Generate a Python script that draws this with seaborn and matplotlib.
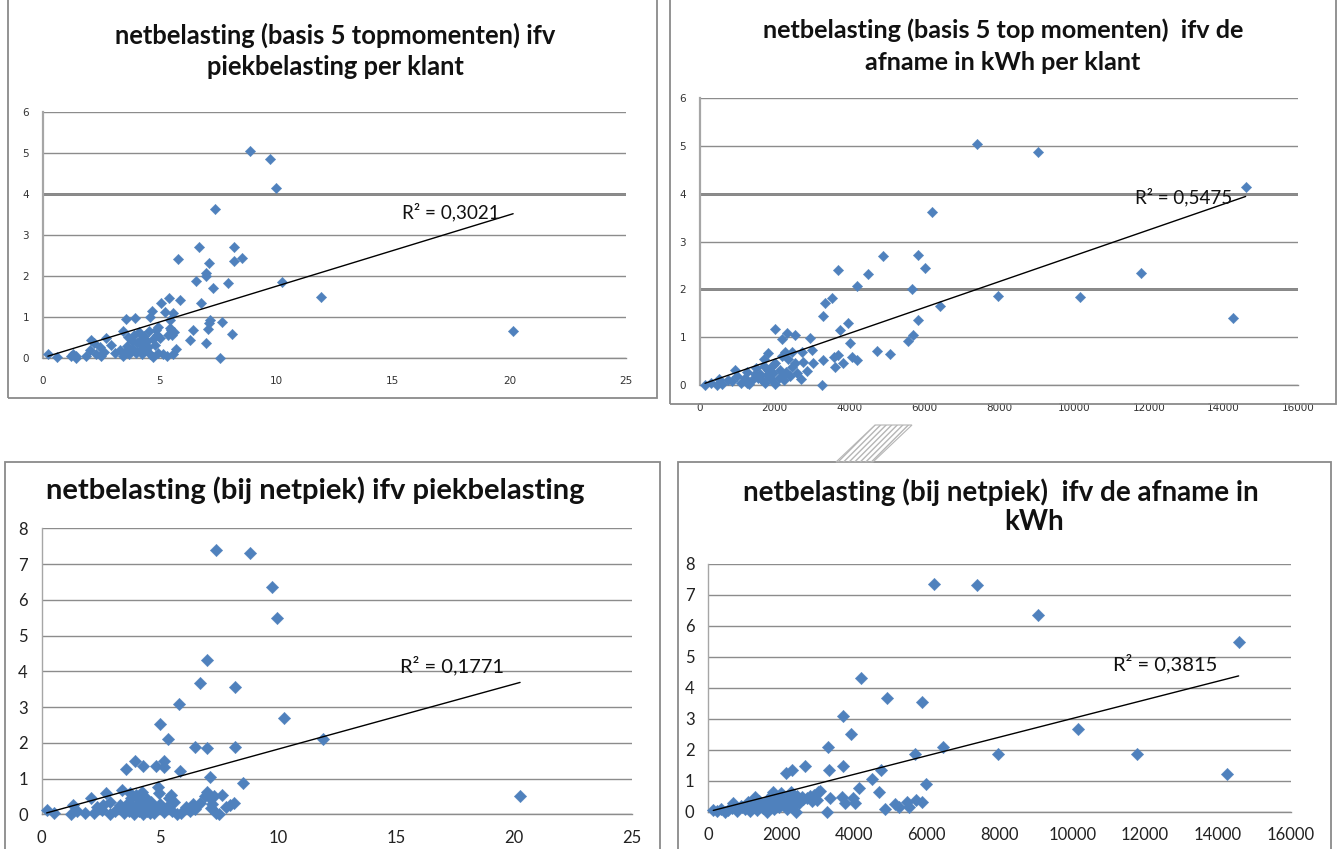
import matplotlib
matplotlib.use("Agg")
import matplotlib.pyplot as plt
from matplotlib.patches import Rectangle, Polygon
import seaborn as sns
import numpy as np

# ---------------- data ----------------
# top-left: netbelasting (basis 5 topmomenten) vs piekbelasting per klant (kW)
piek_tl = [8.86, 9.74, 9.97, 7.39, 6.71, 8.19, 8.53, 8.19, 5.81, 7.10,
           7.00, 7.00, 6.54, 7.29, 7.94, 10.26, 11.93, 20.16, 6.76, 5.86,
           5.39, 5.07, 4.67, 4.57, 5.24, 5.57, 5.43, 3.57, 3.96, 3.43,
           7.14, 7.10, 7.67, 7.07, 6.43, 8.10, 6.31, 7.00, 7.57, 5.71,
           4.71, 5.14, 5.57, 0.21, 0.61, 1.19, 1.40, 1.83, 1.40, 2.07,
           2.71, 2.43, 2.29, 4.86, 5.03, 5.50, 5.53,
           3.30, 3.50, 3.60, 3.70, 3.80, 3.85, 3.90, 4.00, 4.05, 4.10,
           4.15, 4.20, 4.25, 4.30, 4.35, 4.40, 4.45, 4.50, 4.55, 4.60,
           3.45, 3.65, 4.70, 4.80, 4.90, 4.95, 5.30, 5.35, 5.45, 2.60,
           2.90, 3.10, 2.00, 2.20, 1.30, 2.50, 4.95, 5.60]
net5_tl = [5.04, 4.85, 4.13, 3.63, 2.71, 2.71, 2.43, 2.35, 2.40, 2.32,
           2.06, 1.99, 1.87, 1.70, 1.81, 1.84, 1.49, 0.65, 1.34, 1.41,
           1.45, 1.33, 1.14, 1.00, 1.12, 1.10, 0.92, 0.95, 0.96, 0.65,
           0.92, 0.84, 0.86, 0.70, 0.67, 0.57, 0.43, 0.35, 0.00, 0.21,
           0.02, 0.08, 0.08, 0.10, 0.02, 0.05, 0.05, 0.05, 0.00, 0.43,
           0.49, 0.27, 0.10, 0.67, 0.47, 0.67, 0.55,
           0.20, 0.15, 0.28, 0.10, 0.40, 0.22, 0.55, 0.12, 0.35, 0.62,
           0.20, 0.45, 0.08, 0.30, 0.52, 0.18, 0.40, 0.25, 0.65, 0.10,
           0.05, 0.50, 0.45, 0.30, 0.55, 0.12, 0.05, 0.55, 0.72, 0.15,
           0.32, 0.12, 0.18, 0.35, 0.08, 0.05, 0.76, 0.63]

# top-right: netbelasting (basis 5 top momenten) vs afname in kWh per klant
afname_tr = [7400, 9047, 14592, 6212, 5838, 6016, 4885, 4502, 4207, 5660,
             7980, 6417, 11793, 10161, 14261, 3699, 3521, 3342, 3298, 3949,
             3744, 4011, 4056, 4190, 3833, 3610, 3699, 3592, 3298, 3254,
             4742, 5080, 5553, 5686, 5838, 2006, 2184, 2318, 2540, 1827,
             2273, 2452, 2719, 2941, 2986, 3030, 2763, 2540,
             134, 446, 757, 936, 1203, 1471, 1827, 1960, 1649, 2005, 2228,
             300, 500, 600, 850, 1000, 1100, 1250, 1300, 1400, 1500,
             1550, 1600, 1700, 1750, 1800, 1850, 1900, 1950, 2000, 2100,
             2150, 2250, 2300, 2400, 2450, 2600, 2700, 2850, 2200, 2350,
             1700, 1250]
net5_tr = [5.04, 4.88, 4.14, 3.63, 2.72, 2.44, 2.70, 2.32, 2.07, 2.00,
           1.86, 1.65, 2.35, 1.85, 1.41, 2.41, 1.82, 1.71, 1.45, 1.30,
           1.15, 0.87, 0.59, 0.52, 0.45, 0.38, 0.63, 0.58, 0.52, 0.00,
           0.72, 0.65, 0.93, 1.05, 1.36, 1.17, 0.96, 1.08, 1.05, 0.68,
           0.70, 0.70, 0.70, 0.98, 0.73, 0.45, 0.49, 0.45,
           0.00, 0.00, 0.10, 0.31, 0.14, 0.24, 0.31, 0.42, 0.10, 0.03, 0.21,
           0.05, 0.12, 0.03, 0.08, 0.18, 0.05, 0.28, 0.02, 0.10, 0.35,
           0.15, 0.22, 0.40, 0.05, 0.20, 0.30, 0.12, 0.25, 0.45, 0.15,
           0.32, 0.10, 0.28, 0.18, 0.38, 0.25, 0.12, 0.30, 0.60, 0.55,
           0.55, 0.05]

# bottom-left: netbelasting (bij netpiek) vs piekbelasting (kW)
piek_bl = [7.40, 8.84, 9.76, 9.97, 7.00, 6.69, 8.18, 5.83, 10.25, 5.02,
           5.37, 11.92, 6.51, 7.00, 8.18, 5.87, 3.56, 3.96, 4.31, 4.85,
           5.19, 5.16, 7.11, 8.51, 20.26,
           0.21, 0.54, 1.24, 1.34, 1.84, 2.08, 2.73, 2.33, 2.55, 2.90,
           3.39, 4.92, 4.95, 5.47, 5.59, 5.73, 6.29, 6.41, 6.69, 7.00,
           7.11, 7.28, 7.17, 7.64, 7.52, 7.96, 8.13, 5.16, 4.74,
           3.40, 3.50, 3.60, 3.70, 3.80, 3.85, 3.90, 4.00, 4.05, 4.10,
           4.15, 4.20, 4.30, 4.35, 4.40, 4.45, 4.50, 4.60, 4.65, 4.80,
           5.00, 5.30, 5.40, 5.50, 3.30, 2.90, 3.10, 2.60, 1.50, 2.20,
           4.25, 3.75, 5.90, 6.10, 6.50, 7.20, 7.40, 6.90, 7.80]
netpiek_bl = [7.38, 7.30, 6.35, 5.48, 4.32, 3.66, 3.55, 3.08, 2.69, 2.52,
              2.10, 2.11, 1.87, 1.85, 1.89, 1.22, 1.26, 1.49, 1.36, 1.36,
              1.48, 1.33, 1.05, 0.87, 0.51,
              0.12, 0.03, 0.00, 0.26, 0.03, 0.45, 0.59, 0.21, 0.12, 0.00,
              0.68, 0.75, 0.59, 0.54, 0.35, 0.00, 0.10, 0.29, 0.31, 0.63,
              0.45, 0.51, 0.17, 0.54, 0.00, 0.26, 0.31, 0.07, 0.03,
              0.15, 0.05, 0.30, 0.10, 0.45, 0.20, 0.00, 0.55, 0.25, 0.08,
              0.38, 0.15, 0.02, 0.30, 0.45, 0.10, 0.22, 0.05, 0.35, 0.15,
              0.30, 0.20, 0.45, 0.10, 0.25, 0.35, 0.10, 0.25, 0.10, 0.05,
              0.62, 0.60, 0.05, 0.20, 0.15, 0.30, 0.05, 0.50, 0.20]

# bottom-right: netbelasting (bij netpiek) vs afname in kWh
afname_br = [6209, 7390, 9048, 14570, 4187, 4900, 5862, 3692, 3920, 3296,
             6439, 10164, 5678, 7966, 11768, 14241, 2656, 3708, 3324, 4736,
             2126, 2291, 4488, 5980, 4140, 4698, 5129, 5522, 5706, 5879,
             3252, 2409, 3343, 3664, 3756, 3966, 4030, 2977, 3068, 2794,
             2565, 137, 459, 687, 917, 1283, 1786, 2272, 2016, 1664, 3022,
             250, 350, 550, 650, 800, 900, 1000, 1100, 1150, 1250,
             1350, 1400, 1500, 1550, 1600, 1650, 1700, 1750, 1800, 1850,
             1900, 1950, 2000, 2050, 2150, 2200, 2250, 2300, 2350, 2450,
             2500, 2600, 2700, 2850, 2900, 5250, 5450, 4850]
netpiek_br = [7.34, 7.32, 6.35, 5.47, 4.31, 3.66, 3.55, 3.09, 2.51, 2.08,
              2.10, 2.67, 1.85, 1.85, 1.87, 1.21, 1.48, 1.48, 1.35, 1.35,
              1.24, 1.35, 1.05, 0.88, 0.78, 0.63, 0.24, 0.16, 0.38, 0.32,
              0.00, 0.00, 0.43, 0.48, 0.27, 0.43, 0.27, 0.38, 0.68, 0.52,
              0.48, 0.05, 0.00, 0.27, 0.16, 0.48, 0.65, 0.64, 0.38, 0.27, 0.65,
              0.02, 0.10, 0.05, 0.12, 0.03, 0.20, 0.08, 0.30, 0.02, 0.15,
              0.05, 0.35, 0.12, 0.25, 0.00, 0.40, 0.18, 0.55, 0.08, 0.30,
              0.45, 0.15, 0.60, 0.25, 0.10, 0.42, 0.55, 0.20, 0.35, 0.50,
              0.28, 0.40, 0.45, 0.35, 0.55, 0.15, 0.30, 0.10]

r2_labels = ["R² = 0,3021", "R² = 0,5475", "R² = 0,1771", "R² = 0,3815"]

titles_tl = ["netbelasting (basis 5 topmomenten) ifv", "piekbelasting per klant"]
titles_tr = ["netbelasting (basis 5 top momenten)  ifv de", "afname in kWh per klant"]
titles_bl = ["netbelasting (bij netpiek) ifv piekbelasting"]
titles_br = ["netbelasting (bij netpiek)  ifv de afname in", "kWh"]

# ---------------- figure ----------------
W, H = 1341, 849
sns.set_theme(style="white")
plt.rcParams['font.family'] = ['Lato', 'DejaVu Sans']
fig = plt.figure(figsize=(W / 100, H / 100), dpi=100)
fig.patch.set_facecolor("white")


def fx(px):
    return px / W


def fy(py):
    return 1 - py / H


BLUE = "#4F81BD"
GRID = "#8c8c8c"


def panel(rect_px, x, y, xlim, xticks, ylim, yticks, r2, r2pos, small, msize, r2size,
          heavy_grid=()):
    x0, x1, ytop, ybot = rect_px
    ax = fig.add_axes([fx(x0), fy(ybot), fx(x1) - fx(x0), (ybot - ytop) / H])
    xa = np.array(x, dtype=float)
    ya = np.array(y, dtype=float)
    sns.scatterplot(x=xa, y=ya, ax=ax, marker="D", s=msize, color=BLUE,
                    edgecolor=BLUE, linewidth=0.3, zorder=3, clip_on=False)
    # linear trendline with intercept fixed at 0 (as in the original spreadsheet)
    slope = np.sum(xa * ya) / np.sum(xa * xa)
    xs = np.array([xa.min(), xa.max()])
    sns.lineplot(x=xs, y=slope * xs, ax=ax, color="black", lw=1.0, zorder=4)
    ax.set_xlim(*xlim)
    ax.set_ylim(*ylim)
    ax.set_xticks(xticks)
    ax.set_yticks(yticks)
    ax.set_xlabel("")
    ax.set_ylabel("")
    ax.yaxis.grid(True, color=GRID, lw=1.0)
    for g in heavy_grid:
        ax.axhline(g, color="#7a7a7a", lw=2.0, zorder=0.5)
    ax.xaxis.grid(False)
    ax.set_axisbelow(True)
    for s in ("top", "right"):
        ax.spines[s].set_visible(False)
    ax.spines["left"].set_color("#a6a6a6")
    ax.spines["left"].set_linewidth(1.6 if small else 1.0)
    ax.spines["bottom"].set_color(GRID)
    ax.spines["bottom"].set_linewidth(1.0)
    if small:
        lab_font = dict(family="DejaVu Sans", size=7.5, color="#333333")
        ax.tick_params(axis="x", direction="out", length=5, width=1, color=GRID, pad=8)
        ax.tick_params(axis="y", direction="out", length=4, width=1, color=GRID, pad=6)
    else:
        lab_font = dict(family="Lato", size=12, color="#222222")
        ax.tick_params(axis="x", direction="out", length=5, width=1, color=GRID, pad=6)
        ax.tick_params(axis="y", direction="out", length=4, width=1, color=GRID, pad=6)
    ax.set_xticklabels([str(t) for t in xticks], **lab_font)
    ax.set_yticklabels([str(t) for t in yticks], **lab_font)
    ax.text(r2pos[0], r2pos[1], r2, ha="left", va="center",
            fontsize=r2size, family="Lato", color="#111111", zorder=5)
    ax.patch.set_alpha(0)
    return ax


# frames around the four charts
frames = [(8, 657, -5, 398), (670, 1336, -5, 404), (5, 660, 462, 855), (678, 1331, 462, 855)]
for l, r, t, b in frames:
    fig.patches.append(Rectangle((fx(l), fy(b)), fx(r) - fx(l), (b - t) / H,
                                 transform=fig.transFigure, fill=False,
                                 edgecolor="#8a8a8a", lw=1.3))

# decorative hatched ribbon between charts
fig.patches.append(Polygon([(fx(875), fy(425)), (fx(912), fy(425)), (fx(873), fy(462)), (fx(836), fy(462))],
                           closed=True, transform=fig.transFigure, fill=False,
                           hatch="//////", edgecolor="#b5b5b5", lw=0.8))

panel((43, 626, 111.7, 357.7), piek_tl, net5_tl, (0, 25), [0, 5, 10, 15, 20, 25],
      (0, 6), [0, 1, 2, 3, 4, 5, 6], r2_labels[0], (15.4, 3.54), True, 28, 13.6,
      heavy_grid=(4,))
panel((700, 1298.3, 98.3, 385), afname_tr, net5_tr, (0, 16000),
      [0, 2000, 4000, 6000, 8000, 10000, 12000, 14000, 16000],
      (0, 6), [0, 1, 2, 3, 4, 5, 6], r2_labels[1], (11632, 3.94), True, 28, 13.5,
      heavy_grid=(2, 4))
panel((41.7, 632, 528.3, 814.3), piek_bl, netpiek_bl, (0, 25), [0, 5, 10, 15, 20, 25],
      (0, 8), [0, 1, 2, 3, 4, 5, 6, 7, 8], r2_labels[2], (15.16, 4.16), False, 40, 14.5)
panel((708.3, 1290.7, 564, 811.7), afname_br, netpiek_br, (0, 16000),
      [0, 2000, 4000, 6000, 8000, 10000, 12000, 14000, 16000],
      (0, 8), [0, 1, 2, 3, 4, 5, 6, 7, 8], r2_labels[3], (11117, 4.77), False, 40, 14.5)

# titles
def title(px, py, s, size):
    fig.text(fx(px), fy(py), s, family="Lato", weight="bold", size=size,
             color="#111111", ha="center", va="center")


title(335, 35, titles_tl[0], 18.4)
title(335, 67, titles_tl[1], 18.4)
title(1003, 30, titles_tr[0], 18.2)
title(1003, 63, titles_tr[1], 18.2)
title(315, 490, titles_bl[0], 21)
title(1001, 492, titles_br[0], 20)
title(1034, 522, titles_br[1], 20)

fig.savefig("out.png", dpi=100, facecolor="white")
